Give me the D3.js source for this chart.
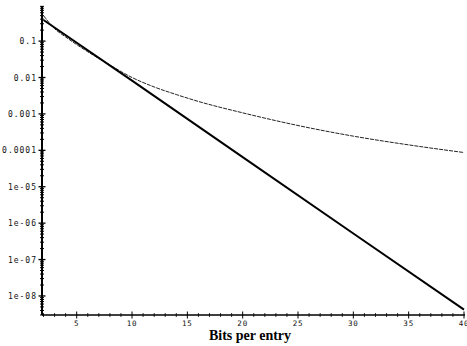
<!DOCTYPE html>
<html>
<head>
<meta charset="utf-8">
<script src="https://cdnjs.cloudflare.com/ajax/libs/d3/7.8.5/d3.min.js"></script>
<style>
  body { margin: 0; background: #fff; }
  svg { display: block; }
</style>
</head>
<body>
<div id="vis"></div>
<script>
// data
const THICK_M = [2, 10, 20, 30, 40];
const THICK_P = [0.38, 0.0082, 6.5e-5, 5.2e-7, 4.2e-9];

const THIN_M = [2, 3, 4, 5, 6, 8, 10, 12, 14, 16, 20, 25, 30, 35, 40];
const THIN_P = [0.5, 0.22, 0.13, 0.08, 0.051, 0.022, 0.010, 0.0055, 0.0034, 0.0022,
                0.00107, 0.00048, 0.000245, 0.000141, 0.000087];

const X_TICKS = [5, 10, 15, 20, 25, 30, 35, 40];
const Y_TICKS = [0.1, 0.01, 0.001, 0.0001, 1e-5, 1e-6, 1e-7, 1e-8];
const Y_LABELS = ["0.1", "0.01", "0.001", "0.0001", "1e-05", "1e-06", "1e-07", "1e-08"];

const FRAME_WIDTH = 467;
const FRAME_HEIGHT = 346;

const svg = d3.select("#vis")
    .append("svg")
    .attr("width", FRAME_WIDTH)
    .attr("height", FRAME_HEIGHT);

const xScale = d3.scaleLinear().domain([2, 40]).range([43.5, 464]);
const yScale = d3.scaleLog().domain([3e-9, 0.92]).range([315, 6]);

// minor ticks
const xMinor = d3.range(2, 41).filter(d => d % 5 != 0);
let yMinor = [];
for (let e = -9; e <= -1; e++) {
  for (let k = 2; k <= 9; k++) {
    const v = k * Math.pow(10, e);
    if (v >= 3e-9 && v <= 0.92) yMinor.push(v);
  }
}

// y axis
const yAxis = svg.append("g");
yAxis.append("line")
    .attr("x1", 42).attr("x2", 42)
    .attr("y1", 6).attr("y2", 315)
    .attr("stroke", "black").attr("stroke-width", 2);
yAxis.selectAll(".ymin").data(yMinor).enter().append("line")
    .attr("x1", 40).attr("x2", 44)
    .attr("y1", d => yScale(d)).attr("y2", d => yScale(d))
    .attr("stroke", "black").attr("stroke-width", 1);
yAxis.selectAll(".ymaj").data(Y_TICKS).enter().append("line")
    .attr("x1", 38.5).attr("x2", 45.5)
    .attr("y1", d => yScale(d)).attr("y2", d => yScale(d))
    .attr("stroke", "black").attr("stroke-width", 1.3);
yAxis.selectAll("text").data(Y_TICKS).enter().append("text")
    .attr("x", 37)
    .attr("y", d => yScale(d) + 3)
    .attr("text-anchor", "end")
    .attr("font-family", "DejaVu Sans Mono, monospace")
    .attr("font-size", "8px")
    .attr("letter-spacing", "1px")
    .attr("fill", "#111")
    .text((d, i) => Y_LABELS[i]);

// x axis
const xAxis = svg.append("g");
xAxis.append("line")
    .attr("x1", 42).attr("x2", 465)
    .attr("y1", 315).attr("y2", 315)
    .attr("stroke", "black").attr("stroke-width", 1.6);
xAxis.selectAll(".xmin").data(xMinor).enter().append("line")
    .attr("x1", d => xScale(d)).attr("x2", d => xScale(d))
    .attr("y1", 313).attr("y2", 317)
    .attr("stroke", "black").attr("stroke-width", 0.8);
xAxis.selectAll(".xmaj").data(X_TICKS).enter().append("line")
    .attr("x1", d => xScale(d)).attr("x2", d => xScale(d))
    .attr("y1", 311.5).attr("y2", 318.5)
    .attr("stroke", "black").attr("stroke-width", 1);
xAxis.selectAll("text").data(X_TICKS).enter().append("text")
    .attr("x", d => xScale(d))
    .attr("y", 326)
    .attr("text-anchor", "middle")
    .attr("font-family", "DejaVu Sans Mono, monospace")
    .attr("font-size", "7.5px")
    .attr("letter-spacing", "0.8px")
    .attr("fill", "#111")
    .text(d => d);

svg.append("text")
    .attr("x", 250)
    .attr("y", 340)
    .attr("text-anchor", "middle")
    .attr("font-family", "Liberation Serif, serif")
    .attr("font-weight", "bold")
    .attr("font-size", "14px")
    .text("Bits per entry");

// curves
const thin = THIN_M.map((m, i) => [m, THIN_P[i]]);
const thick = THICK_M.map((m, i) => [m, THICK_P[i]]);

svg.append("path")
    .attr("d", d3.line().x(d => xScale(d[0])).y(d => yScale(d[1])).curve(d3.curveMonotoneX)(thin))
    .attr("fill", "none")
    .attr("stroke", "#222")
    .attr("stroke-width", 1)
    .attr("stroke-dasharray", "4,1");

svg.append("path")
    .attr("d", d3.line().x(d => xScale(d[0])).y(d => yScale(d[1]))(thick))
    .attr("fill", "none")
    .attr("stroke", "black")
    .attr("stroke-width", 2);
</script>
</body>
</html>
